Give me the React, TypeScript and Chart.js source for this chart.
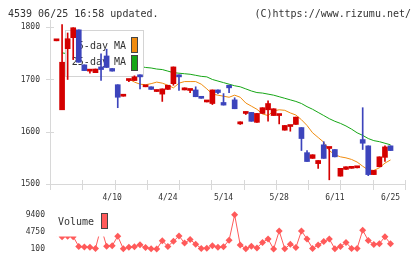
import React, { useEffect, useRef } from 'react';
import { Chart, registerables } from 'chart.js';
Chart.register(...registerables);

// ---- data ----
const openP = [1774, 1642, 1759, 1780, 1795, 1728, 1716, 1713, 1724, 1745, 1721, 1690, 1668, 1698, 1698, 1709, 1686, 1686, 1677, 1672, 1681, 1692, 1709, 1680, 1679, 1680, 1667, 1657, 1654, 1680, 1656, 1689, 1661, 1615, 1635, 1637, 1618, 1635, 1642, 1631, 1631, 1603, 1610, 1614, 1608, 1560, 1549, 1539, 1575, 1568, 1566, 1515, 1528, 1530, 1531, 1585, 1573, 1518, 1533, 1551, 1573];
const highP = [1774, 1805, 1789, 1799, 1795, 1728, 1718, 1720, 1749, 1758, 1721, 1690, 1668, 1700, 1707, 1709, 1688, 1686, 1680, 1682, 1689, 1724, 1709, 1684, 1680, 1686, 1667, 1657, 1680, 1680, 1673, 1689, 1665, 1619, 1638, 1637, 1635, 1646, 1659, 1644, 1631, 1612, 1610, 1628, 1608, 1564, 1556, 1545, 1581, 1568, 1566, 1530, 1533, 1530, 1531, 1646, 1573, 1526, 1552, 1573, 1573];
const lowP = [1774, 1642, 1700, 1738, 1733, 1717, 1712, 1713, 1698, 1723, 1716, 1646, 1668, 1696, 1698, 1682, 1686, 1681, 1677, 1658, 1681, 1689, 1679, 1680, 1675, 1667, 1664, 1657, 1652, 1673, 1651, 1675, 1644, 1614, 1633, 1620, 1618, 1635, 1620, 1631, 1615, 1603, 1601, 1614, 1564, 1543, 1549, 1530, 1549, 1508, 1552, 1515, 1528, 1530, 1531, 1566, 1516, 1518, 1533, 1543, 1564];
const closeP = [1774, 1733, 1778, 1799, 1733, 1717, 1718, 1720, 1719, 1723, 1716, 1666, 1668, 1700, 1705, 1705, 1688, 1681, 1680, 1682, 1689, 1724, 1705, 1684, 1680, 1667, 1664, 1657, 1680, 1675, 1651, 1684, 1644, 1619, 1638, 1620, 1635, 1646, 1654, 1644, 1631, 1612, 1610, 1628, 1587, 1543, 1556, 1545, 1549, 1568, 1552, 1530, 1533, 1530, 1531, 1578, 1518, 1526, 1552, 1571, 1564];
const ma5 = [null, null, null, null, null, null, null, null, null, null, null, null, null, 1701, 1695, 1691, 1690, 1692, 1695, 1693, 1689, 1684, 1693, 1696, 1696, 1696, 1691, 1682, 1672, 1670, 1668, 1666, 1670, 1666, 1655, 1649, 1643, 1634, 1631, 1640, 1642, 1641, 1636, 1632, 1623, 1612, 1598, 1589, 1580, 1564, 1556, 1552, 1550, 1547, 1542, 1534, 1527, 1526, 1531, 1540, 1546];
const ma25 = [null, 1751, null, null, null, null, null, null, null, null, null, null, null, null, null, 1725, 1723, 1722, 1720, 1719, 1716, 1713, 1712, 1711, 1710, 1708, 1706, 1705, 1700, 1697, 1694, 1691, 1688, 1686, 1682, 1678, 1675, 1674, 1672, 1670, 1667, 1664, 1661, 1658, 1654, 1648, 1643, 1637, 1631, 1625, 1620, 1616, 1611, 1605, 1598, 1593, 1587, 1583, 1581, 1578, 1575];
const volume = [4500, 3450, 3600, 3450, 800, 640, 565, 260, 6000, 870, 960, 3590, 150, 565, 720, 1260, 490, 180, 100, 2360, 800, 2190, 3660, 1730, 2660, 1420, 260, 300, 960, 565, 720, 2500, 9400, 1190, 170, 870, 400, 1890, 2820, 100, 5000, 170, 1420, 490, 5000, 2820, 260, 1190, 2120, 2820, 170, 800, 1890, 260, 260, 5215, 2425, 1330, 1560, 3420, 1560];
const xTickIdx = [10, 20, 30, 40, 50, 60];
const xTickLabels = ['4/10', '4/24', '5/14', '5/28', '6/11', '6/25'];
const priceTicks = [1500, 1600, 1700, 1800];
const volumeTicks = [100, 4750, 9400];
const headerLeft = '4539 06/25 16:58 updated.';
const headerRight = '(C)https://www.rizumu.net/';

// ---- scale / style config ----
const X_MIN = -1.17;
const X_MAX = 62.6;
const PRICE_MAX = 1810;
const RED = '#d40000';
const BLUE = '#3c44bc';
const ORANGE = '#f08c10';
const GREEN = '#16a616';
const VOL = '#ff5a5a';
const AXIS = '#d8d8d8';
const MONO = '"DejaVu Sans Mono", monospace';

Chart.defaults.font.family = MONO;

const idx = openP.map((_, i) => i);
const candleColors = idx.map((i) => (closeP[i] >= openP[i] ? RED : BLUE));
const plain = (v: any) => String(v);

const mainFrame = {
  id: 'mainFrame',
  beforeDatasetsDraw(chart: any) {
    const { ctx, chartArea: a, scales } = chart;
    ctx.save();
    ctx.strokeStyle = AXIS;
    ctx.lineWidth = 1;
    ctx.beginPath();
    ctx.moveTo(a.left + 0.5, a.top - 2);
    ctx.lineTo(a.left + 0.5, a.bottom + 6);
    ctx.moveTo(a.left, a.bottom + 0.5);
    ctx.lineTo(a.right + 1, a.bottom + 0.5);
    priceTicks.forEach((v) => {
      const y = Math.round(scales.y.getPixelForValue(v)) + 0.5;
      ctx.moveTo(a.left - 4, y);
      ctx.lineTo(a.left + 4, y);
    });
    for (let k = 0; k <= 11; k++) {
      const x = Math.round(a.left + ((a.right - a.left) * k) / 11) + 0.5;
      ctx.moveTo(x, a.bottom - 4);
      ctx.lineTo(x, a.bottom + 6);
    }
    ctx.stroke();
    ctx.restore();
  },
  beforeDatasetDraw(chart: any, args: any) {
    if (args.index !== 2) return;
    const { ctx } = chart;
    const ds = chart.data.datasets;
    ctx.save();
    ctx.fillStyle = '#ffffff';
    ctx.fillRect(65.5, 30.5, 78, 46);
    ctx.strokeStyle = '#d4d4d4';
    ctx.lineWidth = 1;
    ctx.strokeRect(65.5, 30.5, 78, 46);
    ctx.font = '10px ' + MONO;
    ctx.fillStyle = '#333';
    ctx.textAlign = 'right';
    ctx.textBaseline = 'middle';
    ctx.fillText(ds[1].label, 126, 46);
    ctx.fillText(ds[0].label, 126, 62.5);
    ctx.strokeStyle = '#444';
    ctx.fillStyle = ds[1].borderColor;
    ctx.fillRect(131.5, 37.5, 6, 15);
    ctx.strokeRect(131.5, 37.5, 6, 15);
    ctx.fillStyle = ds[0].borderColor;
    ctx.fillRect(131.5, 55.5, 6, 15);
    ctx.strokeRect(131.5, 55.5, 6, 15);
    ctx.restore();
  },
  afterDraw(chart: any) {
    const { ctx } = chart;
    ctx.save();
    ctx.font = '10px ' + MONO;
    ctx.fillStyle = '#333';
    ctx.textBaseline = 'alphabetic';
    ctx.textAlign = 'left';
    ctx.fillText(headerLeft, 8, 16.5);
    ctx.textAlign = 'right';
    ctx.fillText(headerRight, 411, 16.5);
    ctx.restore();
  },
};

const volFrame = {
  id: 'volFrame',
  afterDatasetsDraw(chart: any) {
    const { ctx } = chart;
    const ds = chart.data.datasets[0];
    ctx.save();
    ctx.fillStyle = '#ffffff';
    ctx.fillRect(53, 2, 59, 29.5);
    ctx.font = '10px ' + MONO;
    ctx.fillStyle = '#333';
    ctx.textAlign = 'left';
    ctx.textBaseline = 'middle';
    ctx.fillText(ds.label, 58, 17);
    ctx.fillStyle = ds.borderColor;
    ctx.strokeStyle = '#444';
    ctx.lineWidth = 1;
    ctx.fillRect(101.5, 8.5, 6, 15);
    ctx.strokeRect(101.5, 8.5, 6, 15);
    ctx.restore();
  },
};

export default function App() {
  const topRef = useRef<HTMLCanvasElement>(null);
  const volRef = useRef<HTMLCanvasElement>(null);

  useEffect(() => {
    const main = new Chart(topRef.current as HTMLCanvasElement, {
      type: 'bar',
      data: {
        datasets: [
          {
            type: 'line',
            label: '25-day MA',
            data: ma25.map((v, i) => ({ x: i, y: v })),
            borderColor: GREEN,
            borderWidth: 1,
            pointRadius: 0,
            spanGaps: true,
            order: 10,
          } as any,
          {
            type: 'line',
            label: '5-day MA',
            data: ma5.map((v, i) => ({ x: i, y: v })),
            borderColor: ORANGE,
            borderWidth: 1,
            pointRadius: 0,
            spanGaps: true,
            order: 9,
          } as any,
          {
            type: 'bar',
            label: 'range',
            data: idx.map((i) => ({ x: i, y: [lowP[i], highP[i]] })),
            backgroundColor: candleColors,
            barThickness: 1,
            grouped: false,
            order: 2,
          } as any,
          {
            type: 'bar',
            label: 'body',
            data: idx.map((i) => ({ x: i, y: [openP[i], closeP[i]] })),
            backgroundColor: candleColors,
            barThickness: 5,
            minBarLength: 2,
            grouped: false,
            order: 1,
          } as any,
        ],
      },
      options: {
        responsive: false,
        animation: false,
        layout: { padding: { left: 0, right: 15, top: 22, bottom: 0 } },
        plugins: { legend: { display: false }, tooltip: { enabled: false } },
        scales: {
          x: {
            type: 'linear',
            min: X_MIN,
            max: X_MAX,
            offset: false,
            grid: { display: false, drawTicks: false },
            border: { display: false },
            afterBuildTicks: (s: any) => {
              s.ticks = xTickIdx.map((v) => ({ value: v }));
            },
            afterFit: (s: any) => {
              s.height = 21;
            },
            ticks: {
              autoSkip: false,
              maxRotation: 0,
              padding: 9,
              color: '#333',
              font: { size: 8 },
              callback: (v: any) => {
                const k = xTickIdx.indexOf(v);
                return k >= 0 ? xTickLabels[k] : '';
              },
            },
          },
          y: {
            type: 'linear',
            min: priceTicks[0],
            max: PRICE_MAX,
            grid: { display: false, drawTicks: false },
            border: { display: false },
            afterBuildTicks: (s: any) => {
              s.ticks = priceTicks.map((v) => ({ value: v }));
            },
            afterFit: (s: any) => {
              s.width = 50;
            },
            ticks: { padding: 10, color: '#333', font: { size: 8 }, callback: plain },
          },
        },
      } as any,
      plugins: [mainFrame],
    });

    const vol = new Chart(volRef.current as HTMLCanvasElement, {
      type: 'line',
      data: {
        datasets: [
          {
            label: 'Volume',
            data: volume.map((v, i) => ({ x: i, y: v })),
            borderColor: VOL,
            backgroundColor: VOL,
            borderWidth: 1,
            pointStyle: 'rectRot',
            pointRadius: 3.5,
            pointBorderWidth: 0,
            pointBackgroundColor: VOL,
            clip: false,
          } as any,
        ],
      },
      options: {
        responsive: false,
        animation: false,
        layout: { padding: { left: 0, right: 15, top: 4, bottom: 10 } },
        plugins: { legend: { display: false }, tooltip: { enabled: false } },
        scales: {
          x: { type: 'linear', min: X_MIN, max: X_MAX, display: false },
          y: {
            type: 'linear',
            min: volumeTicks[0],
            max: volumeTicks[volumeTicks.length - 1],
            grid: { display: false, drawTicks: false },
            border: { display: false },
            afterBuildTicks: (s: any) => {
              s.ticks = volumeTicks.map((v) => ({ value: v }));
            },
            afterFit: (s: any) => {
              s.width = 50;
            },
            ticks: { padding: 5, color: '#333', font: { size: 8 }, callback: plain },
          },
        },
      } as any,
      plugins: [volFrame],
    });

    return () => {
      main.destroy();
      vol.destroy();
    };
  }, []);

  return (
    <div style={{ position: 'absolute', left: 0, top: 0, width: 420, height: 259, background: '#fff' }}>
      <canvas ref={topRef} width={420} height={205} style={{ position: 'absolute', left: 0, top: 0, display: 'block' }} />
      <canvas ref={volRef} width={420} height={54} style={{ position: 'absolute', left: 0, top: 205, display: 'block' }} />
    </div>
  );
}
